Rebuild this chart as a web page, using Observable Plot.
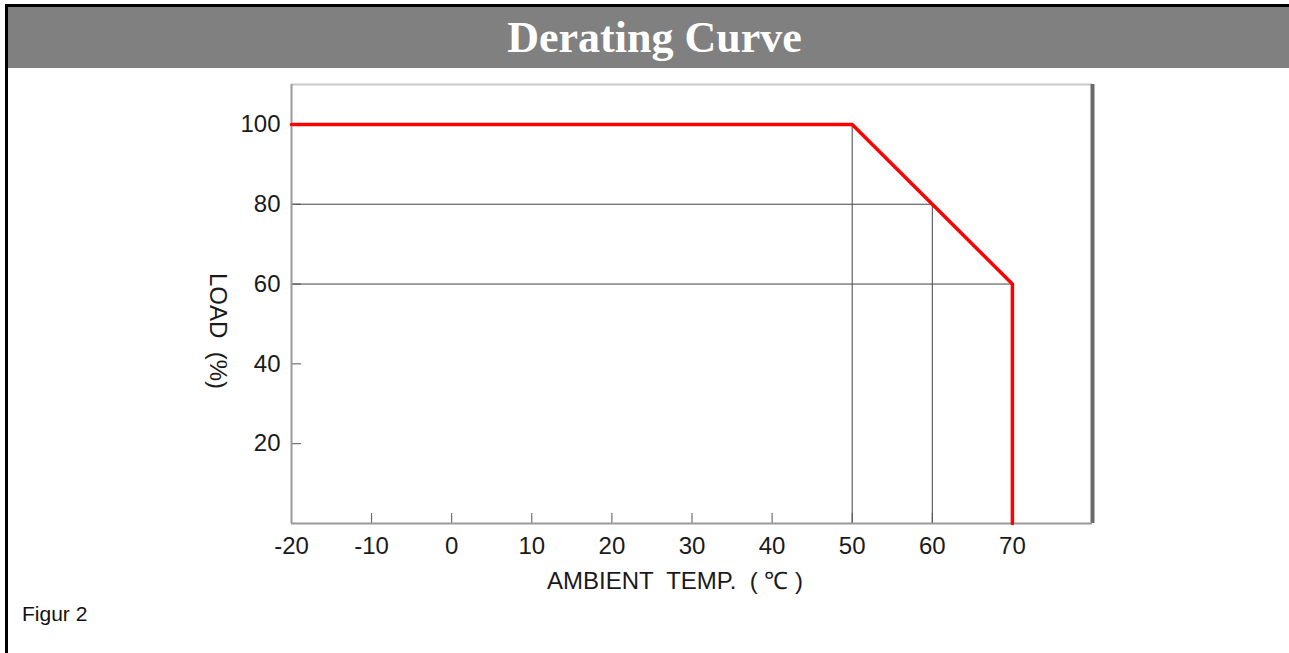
<!DOCTYPE html>
<html>
<head>
<meta charset="utf-8">
<script src="https://cdn.jsdelivr.net/npm/d3@7"></script>
<script src="https://cdn.jsdelivr.net/npm/@observablehq/plot@0.6"></script>
<style>
  html, body { margin: 0; padding: 0; background: #fff; overflow: hidden; }
  .page {
    position: absolute; left: 5px; top: 4px; width: 1300px; height: 700px;
    border-left: 3px solid #000; border-top: 3px solid #000;
    font-family: "Liberation Sans", Arial, sans-serif;
  }
  .title {
    height: 61px; line-height: 61px; background: #808080; color: #fff;
    font-family: "Liberation Serif", "Times New Roman", serif; font-weight: bold;
    font-size: 44px; text-align: center; width: 1281px; padding-left: 12px; box-sizing: border-box;
  }
  #chart svg { display: block; }
  .caption { font-size: 21px; line-height: 24px; margin-top: 4px; padding-left: 14px; color: #111; }
</style>
</head>
<body>
<div class="page">
  <div class="title">Derating Curve</div>
  <div id="chart"></div>
  <div class="caption">Figur 2</div>
</div>
<script>
// Derating curve data
const temps = [-20, 50, 60, 70, 70];
const loads = [100, 100, 80, 60, 0];
const xTicks = [-20, -10, 0, 10, 20, 30, 40, 50, 60, 70];
const yTicks = [20, 40, 60, 80, 100];
// guide lines
const vGuideX = [50, 60];
const vGuideTop = [100, 80];
const hGuideY = [80, 60];
const hGuideEnd = [60, 70];
const xDomain = [-20, 80];
const yDomain = [0, 110];

const curve = temps.map((t, i) => ({temp: t, load: loads[i]}));

const chart = Plot.plot({
  width: 1281,
  height: 530,
  marginLeft: 283,
  marginRight: 197,
  marginTop: 16,
  marginBottom: 75,
  style: {fontFamily: "'Liberation Sans', Arial, sans-serif", color: "#1a1a1a", background: "#fff"},
  x: {domain: xDomain, label: null},
  y: {domain: yDomain, label: null},
  marks: [
    // frame
    Plot.ruleY([yDomain[1]], {stroke: "#c8c8c8", strokeWidth: 2}),
    Plot.ruleX([xDomain[1]], {stroke: "#6a6a6a", strokeWidth: 4}),
    // guides
    Plot.ruleX(vGuideX, {x: d => d, y1: 0, y2: vGuideTop, stroke: "#444", strokeWidth: 1}),
    Plot.ruleY(hGuideY, {y: d => d, x1: xDomain[0], x2: hGuideEnd, stroke: "#444", strokeWidth: 1}),
    // inward ticks
    Plot.axisX(xTicks, {text: null, label: null, tickSize: 10, dy: -10, stroke: "#555"}),
    Plot.axisY(yTicks, {text: null, label: null, tickSize: 10, dx: 10, stroke: "#555"}),
    // tick labels
    Plot.axisX(xTicks, {tickSize: 0, tickPadding: 13, fontSize: 24, label: null, tickFormat: d => String(d)}),
    Plot.axisY(yTicks, {tickSize: 0, tickPadding: 11, fontSize: 24, label: null, tickFormat: d => String(d)}),
    // axes lines
    Plot.ruleX([xDomain[0]], {stroke: "#9a9a9a", strokeWidth: 2}),
    Plot.ruleY([yDomain[0]], {stroke: "#9a9a9a", strokeWidth: 2}),
    // curve
    Plot.line(curve, {x: "temp", y: "load", stroke: "#ff0000", strokeWidth: 3.5}),
    // axis titles
    Plot.text(["AMBIENT  TEMP.  ( ℃ )"], {frameAnchor: "bottom", dx: -17, dy: 65, fontSize: 24, text: d => d, fill: "#1a1a1a"}),
    Plot.text(["LOAD  (%)"], {frameAnchor: "left", dx: -74, dy: -31, rotate: 90, fontSize: 24, text: d => d, fill: "#1a1a1a"})
  ]
});
document.getElementById("chart").appendChild(chart);
</script>
</body>
</html>
